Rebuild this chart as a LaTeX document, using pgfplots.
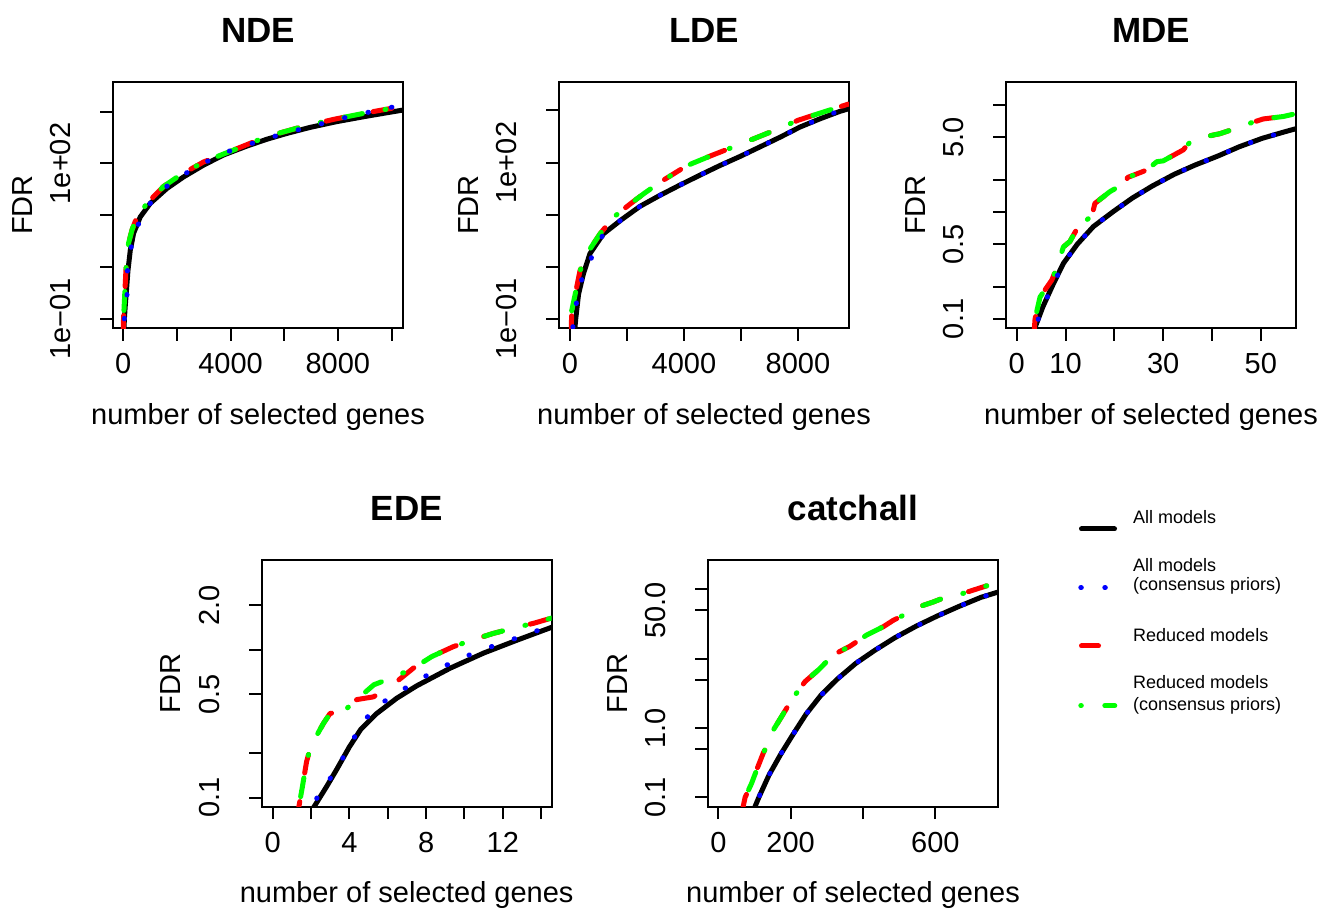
\documentclass[border=0pt]{standalone}
\usepackage{fontspec}
\setmainfont{Liberation Sans}
\usepackage{pgfplots}
\pgfplotsset{compat=1.18}
\definecolor{rred}{RGB}{255,0,0}
\definecolor{rblue}{RGB}{0,0,255}
\definecolor{rgreen}{RGB}{0,255,0}
\newcommand\tickfont{\fontsize{29}{34}\selectfont}
\newcommand\titlefont{\fontsize{35}{41}\selectfont\bfseries}
\newcommand\legfont{\fontsize{18}{20}\selectfont}
\pgfplotsset{
  rpanel/.style={
    scale only axis, width=290pt, height=246.5pt,
    anchor=north west,
    axis line style={line width=2pt},
    tick align=outside, tick pos=left, major tick length=12.7pt,
    major tick style={line width=2pt, black},
    yminorticks=false, xminorticks=false,
    xticklabel style={anchor=base, font=\tickfont},
    yticklabel style={rotate=90, anchor=base, font=\tickfont},
    xticklabel shift=33pt, yticklabel shift=30pt,
    every axis x label/.style={at={(axis description cs:0.5,-0.3895)}, anchor=base, font=\tickfont},
    every axis y label/.style={at={(axis description cs:-0.2793,0.5)}, rotate=90, anchor=base, font=\tickfont},
    every axis title/.style={at={(axis description cs:0.5,1.16)}, anchor=base, font=\titlefont},
    xlabel={number of selected genes}, ylabel={FDR},
    scaled x ticks=false,
  },
  kblack/.style={black, line width=5pt, line join=round, line cap=round, mark=none},
  kblue/.style={rblue, line width=5pt, line join=round, line cap=round, mark=none, dash pattern=on 0.5pt off 23.5pt},
  kred/.style={rred, line width=5pt, line join=round, line cap=round, mark=none, dash pattern=on 19pt off 29pt},
  kgreen/.style={rgreen, line width=5pt, line join=round, line cap=round, mark=none, dash pattern=on 1pt off 23pt on 19pt off 23pt},
}
\begin{document}
\begin{tikzpicture}
\useasboundingbox (0,0) rectangle (1330pt,908pt);
% ---------------- NDE
\begin{semilogyaxis}[rpanel, at={(113pt,826.3pt)}, title={NDE},
  xmin=-384, xmax=10428, ymin=0.066, ymax=3800,
  xtick={0,2000,4000,6000,8000,10000}, xticklabels={0,,4000,,8000,},
  ytick={0.1,1,10,100,1000}, yticklabels={1e−01,,,1e+02,}]
\addplot[kblack] coordinates {(20,0.05) (40,0.1) (70,0.17) (100,0.27) (175,0.87) (260,2.1) (385,4.5) (633,9.3) (1005,17) (1627,33) (2246,55) (2991,93) (3736,146) (4606,217) (5352,294) (6097,381) (6964,498) (7959,644) (9076,820) (10440,1080)};
\addplot[kred] coordinates {(0,0.05) (0,0.08) (37,0.2) (86,0.65) (112,1.18) (197,2.9) (324,5.2) (510,9.3) (883,17) (1500,36) (2123,60) (2991,107) (4110,182) (5352,331) (6592,500) (7832,710) (9074,955) (10380,1260) (10500,1290)};
\addplot[kgreen] coordinates {(0,0.05) (0,0.08) (37,0.2) (86,0.65) (112,1.18) (197,2.9) (324,5.2) (510,9.3) (883,17) (1500,36) (2123,60) (2991,107) (4110,182) (5352,331) (6592,500) (7832,710) (9074,955) (10380,1260) (10500,1290)};
\addplot[kblue] coordinates {(37,0.1) (100,0.2) (138,0.29) (150,0.81) (286,2.35) (547,6.5) (968,16.2) (1564,34.5) (2246,61) (2968,100) (3736,158) (4518,219) (5289,297) (6097,392) (6879,499) (7683,644) (8517,830) (9322,1025) (10130,1260)};
\end{semilogyaxis}
% ---------------- LDE
\begin{semilogyaxis}[rpanel, at={(559pt,826.3pt)}, title={LDE},
  xmin=-386, xmax=9790, ymin=0.067, ymax=3550,
  xtick={0,2000,4000,6000,8000}, xticklabels={0,,4000,,8000},
  ytick={0.1,1,10,100,1000}, yticklabels={1e−01,,,1e+02,}]
\addplot[kblack] coordinates {(150,0.05) (200,0.1) (300,0.3) (468,0.73) (700,1.8) (1170,4.3) (1813,8.1) (2456,14.5) (3158,23.6) (3836,36.6) (4538,56.7) (5263,88) (5965,131) (6667,200) (7368,306) (8070,480) (8772,690) (9474,960) (9790,1080)};
\addplot[kred] coordinates {(40,0.05) (60,0.145) (257,0.47) (351,0.85) (585,1.78) (1053,4.3) (1520,8.9) (2105,16) (2573,25) (3158,42) (4094,87) (4971,137) (5965,224) (7134,405) (8012,650) (8889,930) (9765,1320)};
\addplot[kgreen] coordinates {(40,0.05) (60,0.145) (257,0.47) (351,0.85) (585,1.78) (1053,4.3) (1520,8.9) (2105,16) (2573,25) (3158,42) (4094,87) (4971,137) (5965,224) (7134,405) (8012,650) (8889,930) (9765,1320)};
\addplot[kblue] coordinates {(100,0.07) (117,0.093) (300,0.35) (468,0.73) (1170,4.3) (1813,8.1) (2456,14.5) (3158,23.6) (3836,36.6) (4538,56.7) (5263,88) (5965,131) (6667,200) (7368,306) (8070,480) (8772,690) (9474,1000) (9790,1100)};
\end{semilogyaxis}
% ---------------- MDE
\begin{semilogyaxis}[rpanel, at={(1006pt,826.3pt)}, title={MDE},
  xmin=-2.2, xmax=57.2, ymin=0.0818, ymax=16.5,
  xtick={0,10,20,30,40,50}, xticklabels={0,10,,30,,50},
  ytick={0.1,0.2,0.5,1,2,5,10}, yticklabels={0.1,,0.5,,,5.0,}]
\addplot[kblack] coordinates {(3.3,0.06) (3.75,0.083) (5.33,0.129) (7.38,0.207) (9.55,0.33) (12.42,0.5) (15.7,0.73) (19.67,1.0) (23.7,1.35) (27.8,1.75) (32.2,2.24) (36.5,2.74) (41.2,3.33) (45.6,4.07) (50.3,4.88) (55,5.63) (57.2,6.0)};
\addplot[kred] coordinates {(3.5,0.07) (3.75,0.1) (4.77,0.16) (7.17,0.23) (8.2,0.3) (9.55,0.47) (10.9,0.53) (12.6,0.73) (15.4,0.92) (16,1.2) (19.1,1.55) (22.2,1.86) (22.7,2.1) (26.6,2.46) (28.7,2.95) (30,3.0) (34.1,3.8) (35.5,4.5) (38.2,5.0) (41.7,5.4) (43.7,5.8) (47.1,6.6) (50.5,7.4) (54.6,7.8) (57.2,8.3)};
\addplot[kgreen] coordinates {(3.5,0.07) (3.75,0.1) (4.77,0.16) (7.17,0.23) (8.2,0.3) (9.55,0.47) (10.9,0.53) (12.6,0.73) (15.4,0.92) (16,1.2) (19.1,1.55) (22.2,1.86) (22.7,2.1) (26.6,2.46) (28.7,2.95) (30,3.0) (34.1,3.8) (35.5,4.5) (38.2,5.0) (41.7,5.4) (43.7,5.8) (47.1,6.6) (50.5,7.4) (54.6,7.8) (57.2,8.3)};
\addplot[kblue] coordinates {(3.3,0.06) (3.75,0.083) (5.33,0.129) (7.38,0.207) (9.55,0.33) (12.42,0.5) (15.7,0.73) (19.67,1.0) (23.7,1.35) (27.8,1.75) (32.2,2.24) (36.5,2.74) (41.2,3.33) (45.6,4.07) (50.3,4.88) (55,5.63) (57.2,6.0)};
\end{semilogyaxis}
% ---------------- EDE
\begin{semilogyaxis}[rpanel, at={(261.7pt,348pt)}, title={EDE},
  xmin=-0.57, xmax=14.55, ymin=0.087, ymax=4.05,
  xtick={0,2,4,6,8,10,12,14}, xticklabels={0,,4,,8,,12,},
  ytick={0.1,0.2,0.5,1,2}, yticklabels={0.1,,0.5,,2.0}]
\addplot[kblack] coordinates {(2.0,0.07) (2.12,0.085) (2.82,0.119) (3.34,0.155) (4.0,0.22) (4.6,0.29) (5.42,0.37) (6.47,0.47) (7.51,0.57) (9.25,0.75) (11.0,0.95) (12.73,1.16) (14.55,1.42)};
\addplot[kred] coordinates {(1.3,0.07) (1.37,0.087) (1.56,0.12) (1.77,0.175) (1.98,0.22) (2.2,0.25) (2.64,0.316) (2.99,0.37) (3.86,0.40) (4.38,0.46) (5.25,0.48) (6.12,0.56) (7.33,0.75) (8.3,0.9) (9.42,1.05) (10.38,1.16) (11.5,1.29) (12.73,1.42) (13.6,1.51) (14.55,1.64)};
\addplot[kgreen] coordinates {(1.3,0.07) (1.37,0.087) (1.56,0.12) (1.77,0.175) (1.98,0.22) (2.2,0.25) (2.64,0.316) (2.99,0.37) (3.86,0.40) (4.38,0.46) (5.28,0.58) (6.4,0.66) (7.33,0.75) (8.3,0.9) (9.42,1.05) (10.38,1.16) (11.5,1.29) (12.73,1.42) (13.6,1.51) (14.55,1.64)};
\addplot[kblue] coordinates {(1.9,0.07) (2.0,0.087) (2.68,0.116) (3.37,0.16) (4.0,0.22) (4.6,0.31) (5.37,0.41) (6.4,0.5) (7.47,0.61) (8.55,0.73) (9.68,0.86) (10.85,0.99) (12.03,1.12) (13.2,1.26) (14.35,1.43) (14.6,1.46)};
\end{semilogyaxis}
% ---------------- catchall
\begin{semilogyaxis}[rpanel, at={(708pt,348pt)}, title={catchall},
  xmin=-28.5, xmax=773, ymin=0.074, ymax=266,
  xtick={0,200,400,600}, xticklabels={0,200,,600},
  ytick={0.1,0.5,1,5,10,50,100}, yticklabels={0.1,,1.0,,,50.0,}]
\addplot[kblack] coordinates {(95,0.05) (101.5,0.074) (113,0.103) (140,0.21) (172.5,0.42) (207,0.82) (242.5,1.59) (283,2.95) (327,5.0) (380,8.6) (433,13.3) (488.5,20.2) (546.6,29.5) (605,41.4) (666,57.2) (726,77) (774,92)};
\addplot[kred] coordinates {(65,0.06) (74,0.1) (92,0.16) (106,0.25) (124.5,0.44) (143,0.68) (152,0.94) (175,1.47) (205.7,2.7) (240,4.7) (276.5,6.9) (318,11.4) (364,15.2) (410,22) (456,29) (484,36) (521,45) (558,57) (594,66) (627,77) (677,88) (742,113)};
\addplot[kgreen] coordinates {(65,0.06) (74,0.1) (92,0.16) (106,0.25) (124.5,0.44) (143,0.68) (152,0.94) (175,1.47) (205.7,2.7) (240,4.7) (276.5,6.9) (318,11.4) (364,15.2) (410,22) (456,29) (484,36) (521,45) (558,57) (594,66) (627,77) (677,88) (742,113)};
\addplot[kblue] coordinates {(95,0.05) (101.5,0.074) (113,0.103) (140,0.21) (172.5,0.42) (207,0.82) (242.5,1.59) (283,2.95) (327,5.0) (380,8.6) (433,13.3) (488.5,20.2) (546.6,29.5) (605,41.4) (666,57.2) (726,77) (774,92)};
\end{semilogyaxis}
% ---------------- legend
\draw[black, line width=5pt, line cap=round] (1081.5pt,379pt) -- (1114.5pt,379pt);
\draw[rblue, line width=5pt, line cap=round, dash pattern=on 0.5pt off 23.5pt] (1080.8pt,320.3pt) -- (1110pt,320.3pt);
\draw[rred, line width=5pt, line cap=round] (1081.5pt,262pt) -- (1098.5pt,262pt);
\draw[rgreen, line width=5pt, line cap=round, dash pattern=on 0.5pt off 23.5pt on 10pt off 30pt] (1080.8pt,202.3pt) -- (1115pt,202.3pt);
\node[anchor=base west, inner sep=0pt, font=\legfont] at (1133pt,384pt) {All models};
\node[anchor=base west, inner sep=0pt, font=\legfont] at (1133pt,336.3pt) {All models};
\node[anchor=base west, inner sep=0pt, font=\legfont] at (1133pt,317pt) {(consensus priors)};
\node[anchor=base west, inner sep=0pt, font=\legfont] at (1133pt,266.3pt) {Reduced models};
\node[anchor=base west, inner sep=0pt, font=\legfont] at (1133pt,219.7pt) {Reduced models};
\node[anchor=base west, inner sep=0pt, font=\legfont] at (1133pt,198pt) {(consensus priors)};
\end{tikzpicture}
\end{document}
